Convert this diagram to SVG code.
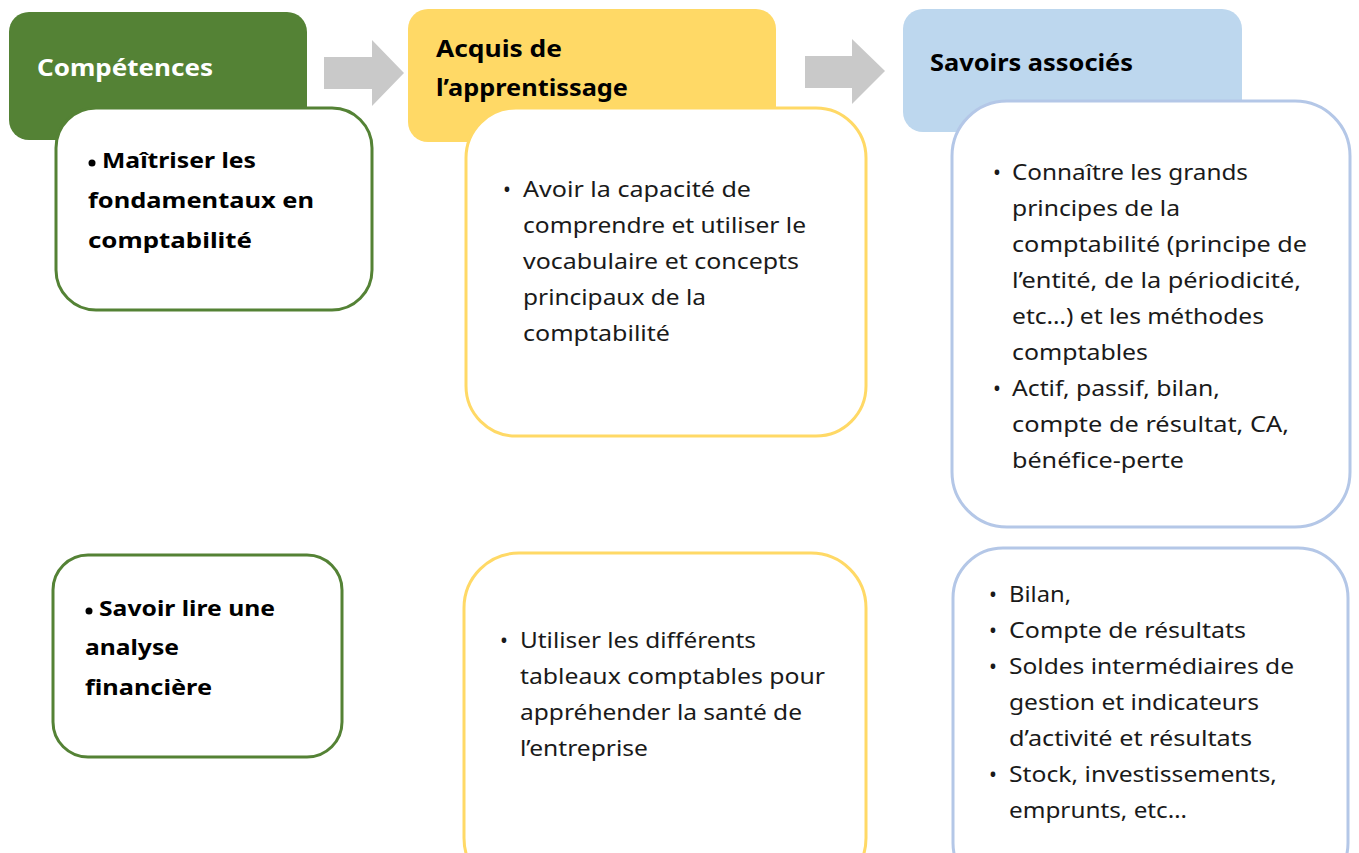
<svg xmlns="http://www.w3.org/2000/svg" width="1359" height="853" viewBox="0 0 1359 853">
<style>
.hdr{font-family:"Noto Sans","Liberation Sans",sans-serif;font-weight:bold;font-size:24px}
.bold{font-family:"Noto Sans","Liberation Sans",sans-serif;font-weight:bold;font-size:22px;fill:#000}
.txt{font-family:"Noto Sans","Liberation Sans",sans-serif;font-size:21px;fill:#1a1a1a}
.cond{font-family:"Noto Sans","Liberation Sans",sans-serif;font-size:21px;fill:#1a1a1a}
.arrow{fill:#c9c9c9}
.gbox{fill:#fff;stroke:#548235;stroke-width:3}
.ybox{fill:#fff;stroke:#ffd966;stroke-width:3}
.bbox{fill:#fff;stroke:#b4c7e7;stroke-width:3}
.dot{fill:#000}
</style>
<rect width="1359" height="853" fill="#fff"/>
<g id="connectors">
<polygon class="arrow" points="324,57 372,57 372,40 404,73 372,106 372,89 324,89"/>
<polygon class="arrow" points="805,56 852,56 852,39 885,71 852,104 852,88 805,88"/>
</g>
<g id="competences">
<rect x="9" y="12" width="298" height="128" rx="20" fill="#548235"/>
<text class="hdr" x="37" y="76" fill="#fff" textLength="176" lengthAdjust="spacingAndGlyphs">Compétences</text>
<rect class="gbox" x="56" y="108" width="316" height="202" rx="40"/>
<circle class="dot" cx="92" cy="163" r="3.5"/>
<text class="bold"><tspan x="102" y="168" textLength="154" lengthAdjust="spacingAndGlyphs">Maîtriser les</tspan><tspan x="88" y="208" textLength="226" lengthAdjust="spacingAndGlyphs">fondamentaux en</tspan><tspan x="88" y="248" textLength="164" lengthAdjust="spacingAndGlyphs">comptabilité</tspan></text>
</g>
<g id="acquis">
<rect x="408" y="9" width="368" height="133" rx="20" fill="#ffd966"/>
<text class="hdr" fill="#000"><tspan x="436" y="57" textLength="126" lengthAdjust="spacingAndGlyphs">Acquis de</tspan><tspan x="436" y="96" textLength="192" lengthAdjust="spacingAndGlyphs">l’apprentissage</tspan></text>
<rect class="ybox" x="466" y="108" width="400" height="328" rx="50"/>
<text class="txt"><tspan x="503" y="197">•</tspan><tspan x="523" y="197" textLength="228" lengthAdjust="spacingAndGlyphs">Avoir la capacité de</tspan><tspan x="523" y="233" textLength="283" lengthAdjust="spacingAndGlyphs">comprendre et utiliser le</tspan><tspan x="523" y="269" textLength="276" lengthAdjust="spacingAndGlyphs">vocabulaire et concepts</tspan><tspan x="523" y="305" textLength="183" lengthAdjust="spacingAndGlyphs">principaux de la</tspan><tspan x="523" y="341" textLength="147" lengthAdjust="spacingAndGlyphs">comptabilité</tspan></text>
</g>
<g id="savoirs">
<rect x="903" y="9" width="339" height="123" rx="20" fill="#bdd7ee"/>
<text class="hdr" x="930" y="71" fill="#000" textLength="203" lengthAdjust="spacingAndGlyphs">Savoirs associés</text>
<rect class="bbox" x="952" y="101" width="398" height="426" rx="55"/>
<text class="txt"><tspan x="993" y="180">•</tspan><tspan x="1012" y="180" textLength="236" lengthAdjust="spacingAndGlyphs">Connaître les grands</tspan><tspan x="1012" y="216" textLength="168" lengthAdjust="spacingAndGlyphs">principes de la</tspan><tspan x="1012" y="252" textLength="295" lengthAdjust="spacingAndGlyphs">comptabilité (principe de</tspan><tspan x="1012" y="288" textLength="289" lengthAdjust="spacingAndGlyphs">l’entité, de la périodicité,</tspan><tspan x="1012" y="324" textLength="252" lengthAdjust="spacingAndGlyphs">etc…) et les méthodes</tspan><tspan x="1012" y="360" textLength="136" lengthAdjust="spacingAndGlyphs">comptables</tspan><tspan x="993" y="396">•</tspan><tspan x="1012" y="396" textLength="208" lengthAdjust="spacingAndGlyphs">Actif, passif, bilan,</tspan><tspan x="1012" y="432" textLength="277" lengthAdjust="spacingAndGlyphs">compte de résultat, CA,</tspan><tspan x="1012" y="468" textLength="172" lengthAdjust="spacingAndGlyphs">bénéfice-perte</tspan></text>
</g>
<g id="competence2">
<rect class="gbox" x="53" y="555" width="289" height="202" rx="35"/>
<circle class="dot" cx="89" cy="611" r="3.5"/>
<text class="bold"><tspan x="99" y="616" textLength="176" lengthAdjust="spacingAndGlyphs">Savoir lire une</tspan><tspan x="85" y="655" textLength="94" lengthAdjust="spacingAndGlyphs">analyse</tspan><tspan x="85" y="695" textLength="127" lengthAdjust="spacingAndGlyphs">financière</tspan></text>
</g>
<g id="acquis2">
<rect class="ybox" x="464" y="553" width="402" height="340" rx="55"/>
<text class="cond"><tspan x="500" y="648">•</tspan><tspan x="520" y="648" textLength="236" lengthAdjust="spacingAndGlyphs">Utiliser les différents</tspan><tspan x="520" y="684" textLength="305" lengthAdjust="spacingAndGlyphs">tableaux comptables pour</tspan><tspan x="520" y="720" textLength="282" lengthAdjust="spacingAndGlyphs">appréhender la santé de</tspan><tspan x="520" y="756" textLength="128" lengthAdjust="spacingAndGlyphs">l’entreprise</tspan></text>
</g>
<g id="savoirs2">
<rect class="bbox" x="953" y="548" width="395" height="345" rx="50"/>
<text class="cond"><tspan x="989" y="602">•</tspan><tspan x="1009" y="602" textLength="62" lengthAdjust="spacingAndGlyphs">Bilan,</tspan><tspan x="989" y="638">•</tspan><tspan x="1009" y="638" textLength="237" lengthAdjust="spacingAndGlyphs">Compte de résultats</tspan><tspan x="989" y="674">•</tspan><tspan x="1009" y="674" textLength="285" lengthAdjust="spacingAndGlyphs">Soldes intermédiaires de</tspan><tspan x="1009" y="710" textLength="250" lengthAdjust="spacingAndGlyphs">gestion et indicateurs</tspan><tspan x="1009" y="746" textLength="243" lengthAdjust="spacingAndGlyphs">d’activité et résultats</tspan><tspan x="989" y="782">•</tspan><tspan x="1009" y="782" textLength="268" lengthAdjust="spacingAndGlyphs">Stock, investissements,</tspan><tspan x="1009" y="818" textLength="178" lengthAdjust="spacingAndGlyphs">emprunts, etc…</tspan></text>
</g>
</svg>
